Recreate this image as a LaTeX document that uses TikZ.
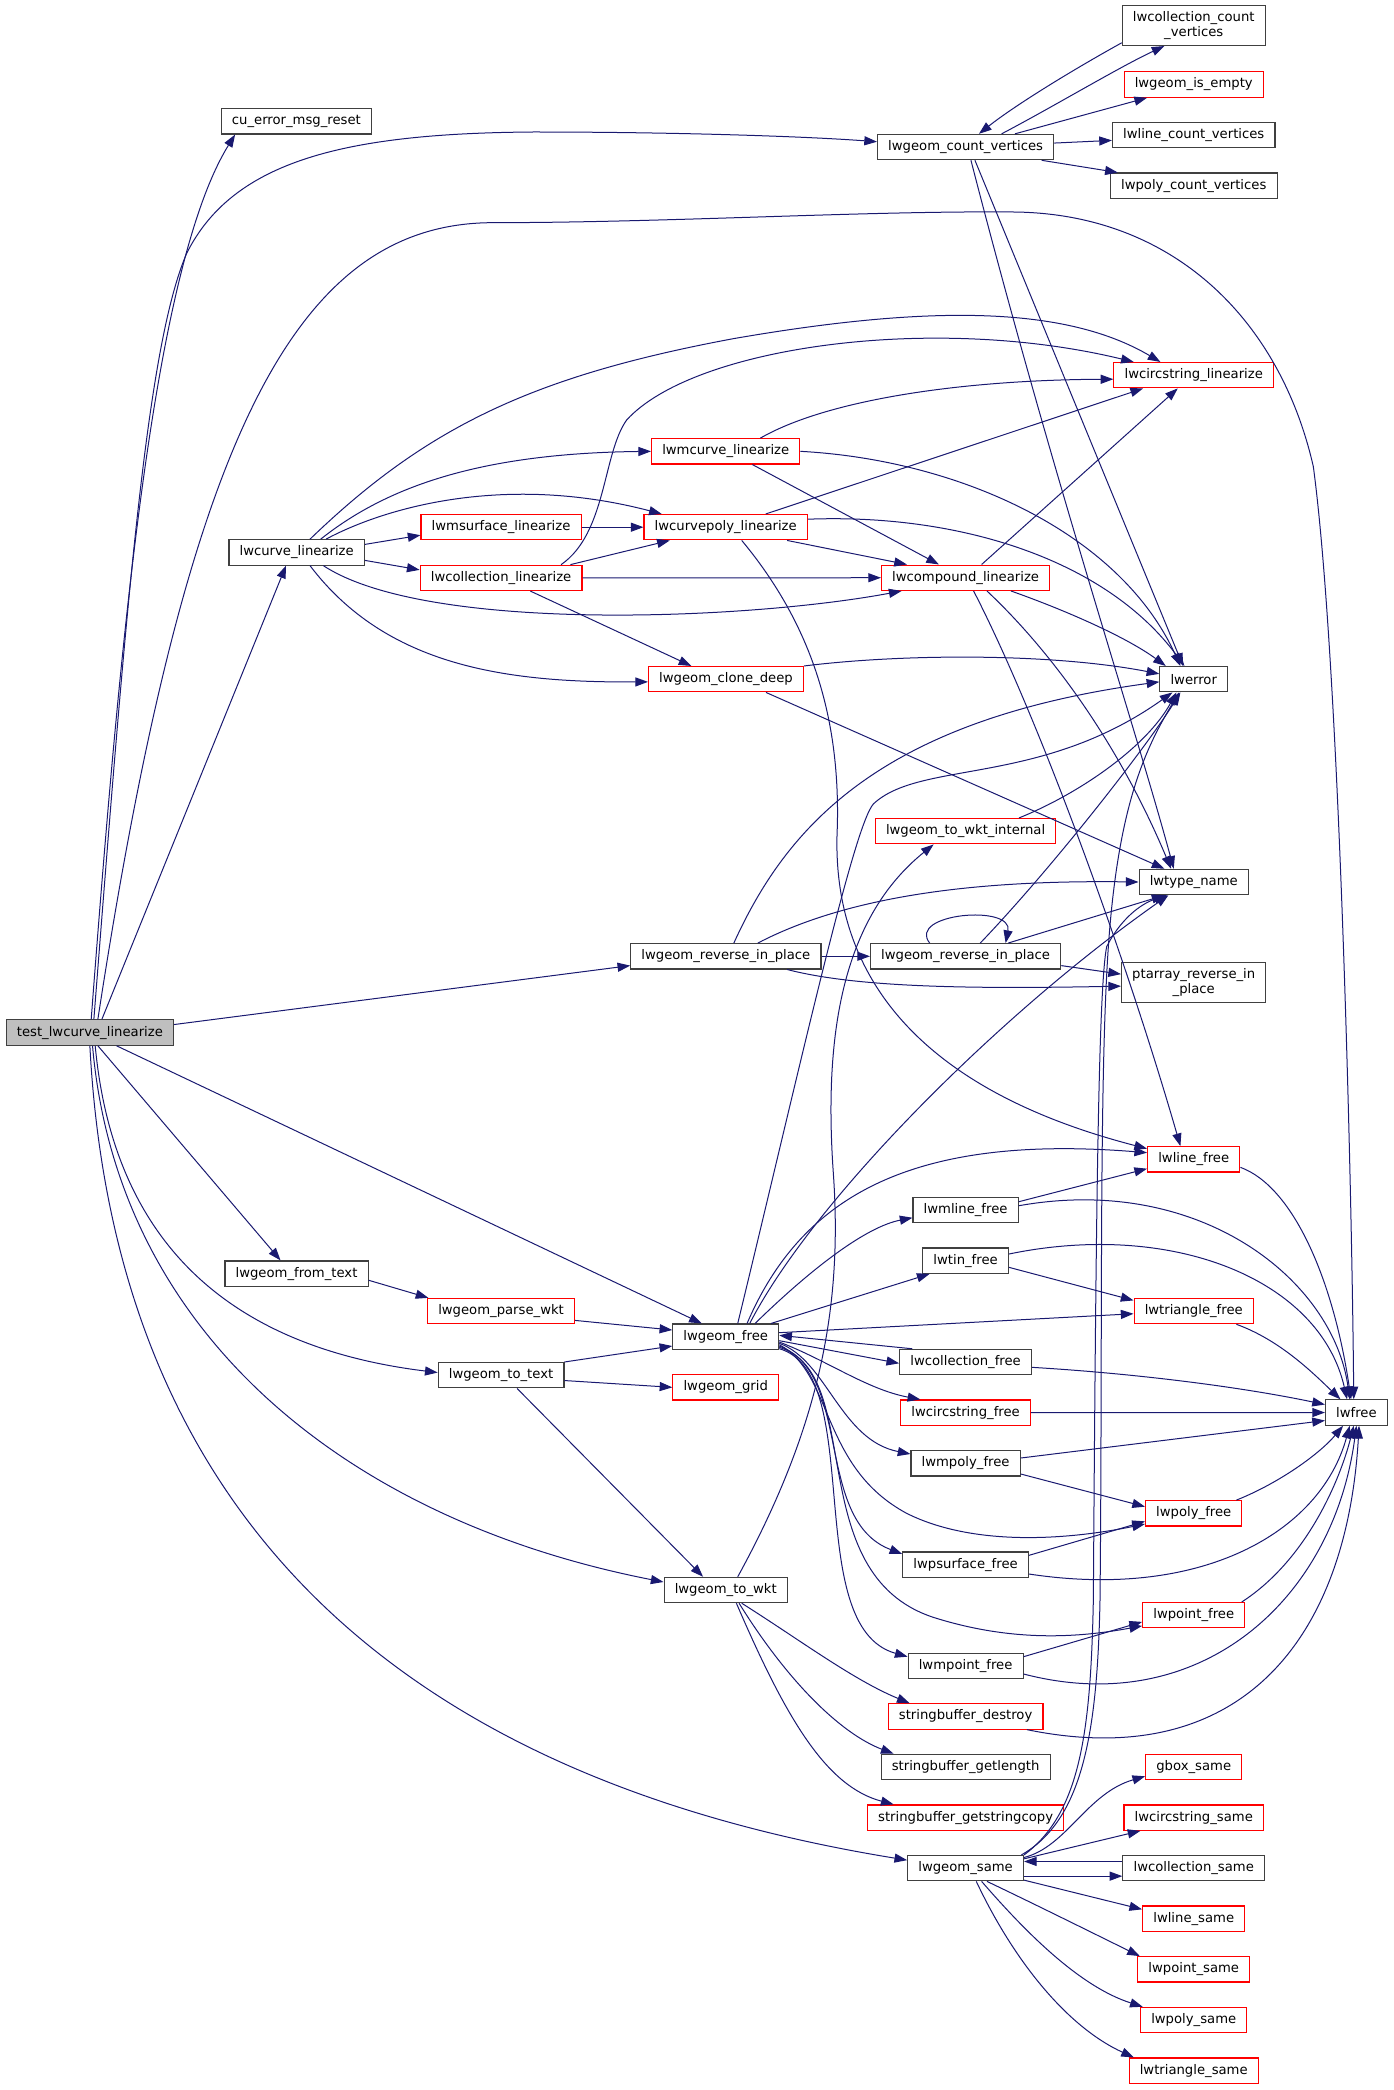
\documentclass[tikz,border=0pt]{standalone}
\usepackage{fontspec}
\newfontfamily\dxfont{DejaVu Sans}
\usepackage{tikz}
\usetikzlibrary{arrows.meta}
\definecolor{midnight}{RGB}{25,25,112}
\definecolor{grey25}{RGB}{64,64,64}
\definecolor{grey75}{RGB}{191,191,191}
\tikzstyle{func}=[draw=grey25,line width=0.85pt,fill=white,font={\dxfont\fontsize{9.9}{11.4}\selectfont},inner xsep=8pt,inner ysep=0pt,minimum height=19pt]
\tikzstyle{funcred}=[func,draw=red]
\tikzstyle{funcroot}=[func,fill=grey75]
\tikzstyle{twoline}=[align=center,minimum height=30pt]
\tikzstyle{call}=[draw=midnight,line width=0.75pt,-{Triangle[length=9.5pt,width=6.8pt]}]

\begin{document}
\begin{tikzpicture}[x=1pt,y=-1pt]
\useasboundingbox (0,0) rectangle (1044.75,1567.5);
\node[funcroot] (test) at (67.4,774.4) {test\_lwcurve\_linearize};
\node[func] (cu) at (222.3,91) {cu\_error\_msg\_reset};
\node[func] (curve) at (222.5,414.3) {lwcurve\_linearize};
\node[func] (fromtext) at (222.4,955.2) {lwgeom\_from\_text};
\node[funcred] (msurf) at (375.8,395.4) {lwmsurface\_linearize};
\node[funcred] (coll) at (375.8,433.4) {lwcollection\_linearize};
\node[funcred] (parse) at (375.8,983.3) {lwgeom\_parse\_wkt};
\node[func] (totext) at (375.8,1031.4) {lwgeom\_to\_text};
\node[funcred] (mcurve) at (544.3,338.5) {lwmcurve\_linearize};
\node[funcred] (cpoly) at (544.3,395.4) {lwcurvepoly\_linearize};
\node[funcred] (clone) at (544.5,509.4) {lwgeom\_clone\_deep};
\node[func] (rev1) at (544.4,717.2) {lwgeom\_reverse\_in\_place};
\node[func] (free) at (544.3,1002.5) {lwgeom\_free};
\node[funcred] (grid) at (544.3,1040.5) {lwgeom\_grid};
\node[func] (towkt) at (544.3,1192.5) {lwgeom\_to\_wkt};
\node[func] (countv) at (724.2,110.3) {lwgeom\_count\_vertices};
\node[funcred] (compound) at (724.2,433.3) {lwcompound\_linearize};
\node[funcred] (internal) at (724.2,623.4) {lwgeom\_to\_wkt\_internal};
\node[func] (rev2) at (724.2,717.2) {lwgeom\_reverse\_in\_place};
\node[func] (mline) at (724.2,907.3) {lwmline\_free};
\node[func] (tin) at (724.2,945.5) {lwtin\_free};
\node[func] (collfree) at (724.2,1021.5) {lwcollection\_free};
\node[funcred] (circfree) at (724.2,1059.5) {lwcircstring\_free};
\node[func] (mpoly) at (724.2,1097.5) {lwmpoly\_free};
\node[func] (psurf) at (724.2,1173.5) {lwpsurface\_free};
\node[func] (mpoint) at (724.2,1249.5) {lwmpoint\_free};
\node[funcred] (sbdestroy) at (724.2,1287.3) {stringbuffer\_destroy};
\node[func] (sblength) at (724.2,1325.2) {stringbuffer\_getlength};
\node[funcred] (sbcopy) at (724.2,1363.2) {stringbuffer\_getstringcopy};
\node[func] (same) at (724.2,1401.1) {lwgeom\_same};
\node[func,twoline] (collcountv) at (895.3,19.1) {lwcollection\_count\\\_vertices};
\node[funcred] (isempty) at (895.3,63.4) {lwgeom\_is\_empty};
\node[func] (linecountv) at (895.3,101.3) {lwline\_count\_vertices};
\node[func] (polycountv) at (895.3,139.3) {lwpoly\_count\_vertices};
\node[funcred] (circlin) at (895.3,281.4) {lwcircstring\_linearize};
\node[func] (lwerror) at (895.3,509.4) {lwerror};
\node[func] (typename) at (895.3,661.5) {lwtype\_name};
\node[func,twoline] (ptarray) at (895.3,736.6) {ptarray\_reverse\_in\\\_place};
\node[funcred] (linefree) at (895.3,869.5) {lwline\_free};
\node[funcred] (trifree) at (895.3,983.3) {lwtriangle\_free};
\node[funcred] (polyfree) at (895.3,1135) {lwpoly\_free};
\node[funcred] (pointfree) at (895.3,1211.4) {lwpoint\_free};
\node[funcred] (gbox) at (895.3,1325.2) {gbox\_same};
\node[funcred] (circsame) at (895.3,1363.2) {lwcircstring\_same};
\node[func] (collsame) at (895.3,1401.1) {lwcollection\_same};
\node[funcred] (linesame) at (895.3,1439) {lwline\_same};
\node[funcred] (pointsame) at (895.3,1477) {lwpoint\_same};
\node[funcred] (polysame) at (895.3,1515) {lwpoly\_same};
\node[funcred] (trisame) at (895.3,1553) {lwtriangle\_same};
\node[func] (lwfree) at (1017.3,1059.4) {lwfree};

\draw[call] ([xshift=1pt]test.north) .. controls (90,480) and (115,200) .. ([xshift=-46pt]cu.south);
\draw[call] ([xshift=3pt]test.north) .. controls (95,450) and (110,260) .. (140,190) .. controls (175,120) and (260,100) .. (400,99) .. controls (500,99) and (600,102) .. ([yshift=4pt]countv.west);
\draw[call] ([xshift=6pt]test.north) .. controls (140,330) and (220,167) .. (370,167) .. controls (500,167) and (650,158) .. (760,159) .. controls (880,160) and (960,240) .. (985,350) .. controls (1005,500) and (1014,900) .. ([xshift=-2pt]lwfree.north);
\draw[call] ([xshift=9pt]test.north) -- ([xshift=-8pt]curve.south);
\draw[call] ([yshift=6pt]test.east) -- ([yshift=-7pt]rev1.west);
\draw[call] ([xshift=6pt]test.south) -- ([xshift=-12pt]fromtext.north);
\draw[call] ([xshift=20pt]test.south) -- ([xshift=-18pt]free.north);
\draw[call] ([xshift=4pt]test.south) .. controls (85,930) and (170,1010) .. ([yshift=2pt]totext.west);
\draw[call] ([xshift=2pt]test.south) .. controls (88,1000) and (260,1140) .. ([yshift=6pt]towkt.west);
\draw[call] (test.south) .. controls (85,1120) and (280,1330) .. ([yshift=6pt]same.west);

\draw[call] ([xshift=10pt]curve.north) .. controls (320,320) and (400,282) .. (550,254) .. controls (700,228) and (800,230) .. ([xshift=-25pt]circlin.north);
\draw[call] ([xshift=18pt]curve.north) .. controls (290,365) and (360,340) .. (mcurve.west);
\draw[call] ([xshift=22pt]curve.north) .. controls (290,380) and (380,355) .. ([xshift=-48pt]cpoly.north);
\draw[call] ([yshift=6pt]curve.east) -- ([yshift=-6pt]msurf.west);
\draw[call] ([yshift=-6pt]curve.east) -- ([yshift=6pt]coll.west);
\draw[call] ([xshift=20pt]curve.south) .. controls (320,475) and (560,465) .. ([xshift=-48pt]compound.south);
\draw[call] ([xshift=10pt]curve.south) .. controls (290,500) and (380,512) .. ([yshift=-2pt]clone.west);
\draw[call] (msurf.east) -- (cpoly.west);
\draw[call] ([xshift=52pt]coll.north) -- ([xshift=-42pt]cpoly.south);
\draw[call] (coll.east) -- (compound.west);
\draw[call] ([xshift=22pt]coll.south) -- ([xshift=-26pt]clone.north);
\draw[call] ([xshift=45pt]coll.north) .. controls (455,400) and (452,340) .. (470,315) .. controls (520,260) and (700,235) .. ([xshift=-45pt]circlin.north);
\draw[call] ([xshift=26pt]mcurve.north) .. controls (620,300) and (720,285) .. ([yshift=-3pt]circlin.west);
\draw[call] ([xshift=20pt]mcurve.south) -- ([xshift=-20pt]compound.north);
\draw[call] (mcurve.east) .. controls (720,345) and (840,400) .. ([xshift=-10pt]lwerror.north);
\draw[call] ([xshift=30pt]cpoly.north) -- ([xshift=-38pt]circlin.south);
\draw[call] ([xshift=46pt]cpoly.south) -- ([xshift=-44pt]compound.north);
\draw[call] ([yshift=6pt]cpoly.east) .. controls (720,385) and (830,420) .. ([xshift=-7pt]lwerror.north);
\draw[call] ([xshift=12pt]cpoly.south) .. controls (610,470) and (630,540) .. (628,620) .. controls (622,740) and (700,820) .. ([yshift=8pt]linefree.west);
\draw[call] ([xshift=12pt]compound.north) -- ([xshift=-12pt]circlin.south);
\draw[call] ([xshift=34pt]compound.south) .. controls (800,458) and (845,478) .. ([xshift=-21pt]lwerror.north);
\draw[call] ([xshift=16pt]compound.south) .. controls (790,490) and (840,560) .. ([xshift=-17pt]typename.north);
\draw[call] ([xshift=6pt]compound.south) .. controls (780,540) and (845,720) .. ([xshift=-10pt]linefree.north);
\draw[call] (clone.north east) .. controls (680,490) and (790,490) .. ([yshift=4pt]lwerror.west);
\draw[call] ([xshift=30pt]clone.south) -- ([xshift=-22pt]typename.north);

\draw[call] ([xshift=27pt]countv.north) .. controls (790,80) and (840,50) .. ([xshift=-22pt]collcountv.south);
\draw[call] ([yshift=-13pt]collcountv.west) .. controls (800,55) and (760,80) .. ([xshift=10pt]countv.north);
\draw[call] ([xshift=37pt]countv.north) -- ([xshift=-35pt]isempty.south);
\draw[call] ([yshift=3pt]countv.east) -- ([yshift=-4pt]linecountv.west);
\draw[call] ([xshift=57pt]countv.south) -- ([xshift=-57pt]polycountv.north);
\draw[call] ([xshift=7pt]countv.south) -- ([xshift=-8pt]lwerror.north);
\draw[call] ([xshift=4pt]countv.south) .. controls (790,360) and (850,540) .. ([xshift=-15pt]typename.north);

\draw[call] ([xshift=6pt]rev1.north) .. controls (590,620) and (660,540) .. ([yshift=-2pt]lwerror.west);
\draw[call] ([xshift=24pt]rev1.north) .. controls (640,670) and (740,660) .. (typename.west);
\draw[call] (rev1.east) -- (rev2.west);
\draw[call] ([xshift=46pt]rev1.south) .. controls (640,740) and (720,742) .. ([yshift=-3pt]ptarray.west);
\draw[call] ([xshift=-27pt]rev2.north) .. controls (680,685) and (760,678) .. ([xshift=30pt]rev2.north);
\draw[call] ([xshift=11pt]rev2.north) .. controls (790,650) and (860,560) .. ([xshift=-10pt]lwerror.south);
\draw[call] ([xshift=32pt]rev2.north) -- ([xshift=-22pt]typename.south);
\draw[call] ([yshift=-7pt]rev2.east) -- ([yshift=6pt]ptarray.west);
\draw[call] ([xshift=40pt]internal.north) .. controls (810,595) and (860,560) .. ([xshift=-13pt]lwerror.south);

\draw[call] ([xshift=9pt]free.north) .. controls (600,800) and (640,620) .. (655,603) .. controls (690,570) and (780,590) .. ([xshift=-16pt]lwerror.south);
\draw[call] ([xshift=18pt]free.north) .. controls (610,900) and (750,760) .. ([xshift=-19pt]typename.south);
\draw[call] ([xshift=16pt]free.north) .. controls (600,900) and (680,850) .. ([yshift=5pt]linefree.west);
\draw[call] ([xshift=22pt]free.north) .. controls (610,950) and (650,920) .. ([yshift=-6pt]mline.west);
\draw[call] ([xshift=34pt]free.north) -- ([xshift=-27pt]tin.south);
\draw[call] ([yshift=3pt]free.east) -- ([yshift=-2pt]trifree.west);
\draw[call] ([xshift=-40pt]collfree.north) -- ([yshift=1pt]free.east);
\draw[call] ([yshift=-3pt]free.east) -- ([yshift=-1pt]collfree.west);
\draw[call] ([yshift=-4pt]free.east) .. controls (620,1020) and (650,1042) .. ([xshift=-34pt]circfree.north);
\draw[call] ([yshift=-5pt]free.east) .. controls (620,1020) and (630,1080) .. ([yshift=7pt]mpoly.west);
\draw[call] ([yshift=-6pt]free.east) .. controls (625,1030) and (615,1100) .. (680,1135) .. controls (730,1160) and (800,1155) .. ([yshift=-8pt]polyfree.west);
\draw[call] ([yshift=-7pt]free.east) .. controls (640,1030) and (610,1140) .. ([yshift=8pt]psurf.west);
\draw[call] ([yshift=-8pt]free.east) .. controls (650,1030) and (600,1180) .. (700,1213) .. controls (760,1232) and (810,1228) .. ([yshift=-8pt]pointfree.west);
\draw[call] ([yshift=-9pt]free.east) .. controls (650,1030) and (600,1220) .. ([yshift=7pt]mpoint.west);

\draw[call] ([yshift=-5pt]fromtext.east) -- ([xshift=1pt]parse.north west);
\draw[call] ([yshift=-7pt]parse.east) -- ([yshift=5pt]free.west);
\draw[call] (totext.north east) -- ([yshift=-7pt]free.west);
\draw[call] ([yshift=-4pt]totext.east) -- (grid.west);
\draw[call] ([xshift=12pt]totext.south) -- ([xshift=-17pt]towkt.north);
\draw[call] ([xshift=9pt]towkt.north) .. controls (615,1070) and (632,980) .. (625,880) .. controls (618,780) and (630,690) .. ([xshift=-24pt]internal.south);
\draw[call] ([xshift=12pt]towkt.south) .. controls (600,1230) and (640,1260) .. ([xshift=-42pt]sbdestroy.north);
\draw[call] ([xshift=10pt]towkt.south) .. controls (590,1260) and (630,1300) .. ([xshift=-54pt]sblength.north);
\draw[call] ([xshift=8pt]towkt.south) .. controls (590,1290) and (620,1340) .. ([xshift=-54pt]sbcopy.north);

\draw[call] ([yshift=6pt]mline.east) -- ([yshift=-7pt]linefree.west);
\draw[call] ([yshift=3pt]mline.east) .. controls (900,880) and (1000,960) .. ([xshift=-5pt]lwfree.north);
\draw[call] ([yshift=-6pt]linefree.east) .. controls (970,890) and (1000,960) .. ([xshift=-4pt]lwfree.north);
\draw[call] ([yshift=5pt]tin.east) .. controls (880,915) and (990,960) .. ([xshift=-7pt]lwfree.north);
\draw[call] ([yshift=-5pt]tin.east) -- ([yshift=8pt]trifree.west);
\draw[call] ([xshift=32pt]trifree.south) .. controls (960,1005) and (985,1030) .. ([xshift=-12pt]lwfree.north);
\draw[call] ([yshift=-4pt]collfree.east) .. controls (850,1030) and (930,1040) .. ([yshift=6pt]lwfree.west);
\draw[call] (circfree.east) -- (lwfree.west);
\draw[call] ([yshift=4pt]mpoly.east) -- ([yshift=-6pt]lwfree.west);
\draw[call] ([yshift=-8pt]mpoly.east) -- ([yshift=5pt]polyfree.west);
\draw[call] ([xshift=32pt]polyfree.north) .. controls (960,1112) and (990,1090) .. ([xshift=-10pt]lwfree.south);
\draw[call] ([yshift=7pt]psurf.east) -- ([yshift=-6pt]polyfree.west);
\draw[call] ([yshift=-7pt]psurf.east) .. controls (900,1200) and (990,1150) .. ([xshift=-5pt]lwfree.south);
\draw[call] ([xshift=36pt]pointfree.north) .. controls (980,1170) and (1005,1110) .. ([xshift=-2pt]lwfree.south);
\draw[call] ([yshift=7pt]mpoint.east) -- ([yshift=-5pt]pointfree.west);
\draw[call] ([yshift=-6pt]mpoint.east) .. controls (900,1290) and (1000,1200) .. (lwfree.south);
\draw[call] ([xshift=46pt]sbdestroy.south) .. controls (930,1330) and (1010,1230) .. ([xshift=2pt]lwfree.south);

\draw[call] ([yshift=8pt]same.east) .. controls (800,1385) and (815,1345) .. ([yshift=-7pt]gbox.west);
\draw[call] ([yshift=7pt]same.east) -- ([xshift=-40pt]circsame.south);
\draw[call] ([yshift=5pt]collsame.west) -- ([yshift=5pt]same.east);
\draw[call] ([yshift=-6pt]same.east) -- ([yshift=-6pt]collsame.west);
\draw[call] ([yshift=-9pt]same.east) -- ([yshift=7pt]linesame.west);
\draw[call] ([xshift=16pt]same.south) .. controls (780,1430) and (820,1450) .. ([xshift=2pt]pointsame.north west);
\draw[call] ([xshift=12pt]same.south) .. controls (770,1450) and (810,1490) .. ([xshift=2pt]polysame.north west);
\draw[call] ([xshift=8pt]same.south) .. controls (760,1470) and (800,1520) .. ([xshift=4pt]trisame.north west);
\draw[call] (same.north east) .. controls (810,1360) and (818,1300) .. (820,1200) .. controls (822,900) and (824,740) .. (830,710) .. controls (840,690) and (855,678) .. ([xshift=-20pt]typename.south);
\draw[call] ([xshift=-2pt]same.north east) .. controls (812,1365) and (823,1300) .. (825,1200) .. controls (827,1000) and (824,800) .. (832,700) .. controls (840,600) and (860,560) .. ([xshift=-11pt]lwerror.south);
\end{tikzpicture}
\end{document}
